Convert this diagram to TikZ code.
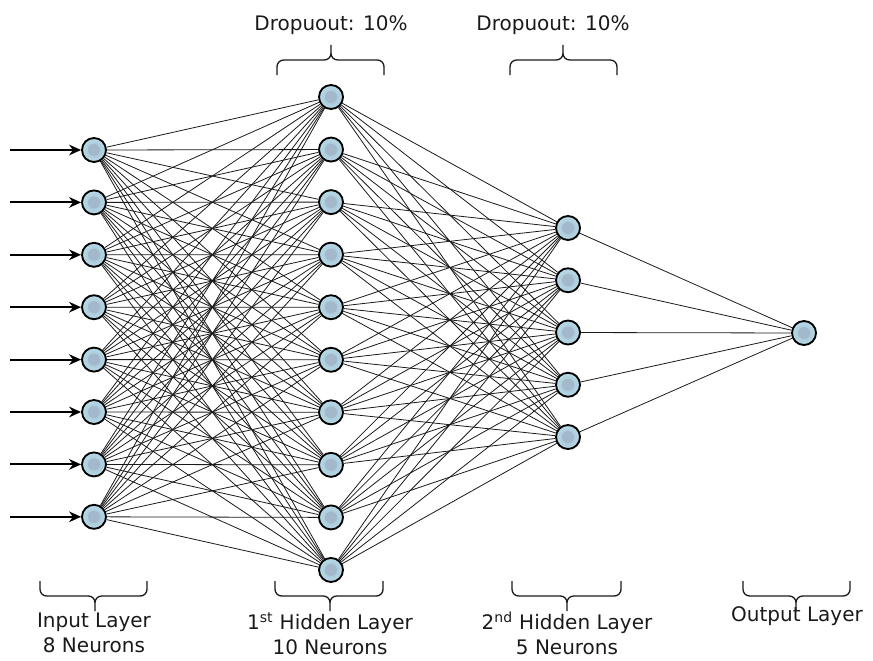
\documentclass[tikz,border=0pt]{standalone}
\usepackage{fontspec}
\setmainfont{DejaVu Sans}
\usetikzlibrary{arrows.meta, backgrounds}
\definecolor{core}{HTML}{A3B9CB}
\definecolor{rim}{HTML}{C2F0FA}
\definecolor{ink}{HTML}{1A1A1A}

\begin{document}
\begin{tikzpicture}[
    x=0.75pt, y=-0.75pt,
    >={Stealth[length=9pt, width=8pt]},
    N/.style={circle, draw=black, line width=1.4pt, minimum size=18pt, inner sep=0pt, fill=rim,
              path picture={\shade[inner color=core, outer color=rim] (path picture bounding box.center) circle (14pt);
                            \fill[core] (path picture bounding box.center) circle (4.5pt);}},
    W/.style={line width=0.6pt, color=ink},
    In/.style={->, line width=1.4pt, color=black},
    Br/.style={line width=1pt, rounded corners=5pt, color=ink},
    T/.style={font=\fontsize{15}{19}\selectfont, align=center, text=ink}
]
\useasboundingbox (0,0) rectangle (873,660);

% === NEURONS ===
\foreach \k in {1,...,8}
    \node[N] (i\k) at (94, {150+52.4*(\k-1)}) {};
\foreach \k in {1,...,10}
    \node[N] (ha\k) at (331, {97+52.55*(\k-1)}) {};
\foreach \k in {1,...,5}
    \node[N] (hb\k) at (568, {228+52.25*(\k-1)}) {};
\node[N] (out) at (804,333) {};

% === WEIGHTS ===
\begin{scope}[on background layer]
\foreach \a in {1,...,8}
    \foreach \b in {1,...,10}
        \draw[W] (i\a) -- (ha\b);
\foreach \a in {1,...,10}
    \foreach \b in {1,...,5}
        \draw[W] (ha\a) -- (hb\b);
\foreach \a in {1,...,5}
    \draw[W] (hb\a) -- (out);
\end{scope}

% === INPUTS ===
\foreach \k in {1,...,8} {
    \coordinate (src\k) at (10, {150+52.4*(\k-1)});
    \draw[In] (src\k) -- (i\k);
}

% === BRACES ===
\foreach \xa/\xb/\xc in {277/384/331, 510/617/563}
    \draw[Br] (\xa,75) |- (\xc,60) -- (\xc,45) (\xb,75) |- (\xc,60) -- (\xc,45);
\foreach \xa/\xb/\xc in {40/147/95, 275/383/330, 512/621/567, 743/850/796}
    \draw[Br] (\xa,581) |- (\xc,596) -- (\xc,611) (\xb,581) |- (\xc,596) -- (\xc,611);

% === LABELS ===
\node[T] (dropA) at (331,25) {Dropuout: 10\%};
\node[T] (dropB) at (553,25) {Dropuout: 10\%};
\node[T] (labIn) at (94,633) {Input Layer\\8 Neurons};
\node[T] (labHa) at (330,634) {1\textsuperscript{st} Hidden Layer\\10 Neurons};
\node[T] (labHb) at (567,633) {2\textsuperscript{nd} Hidden Layer\\5 Neurons};
\node[T] (labOut) at (797,616) {Output Layer};

\end{tikzpicture}
\end{document}
